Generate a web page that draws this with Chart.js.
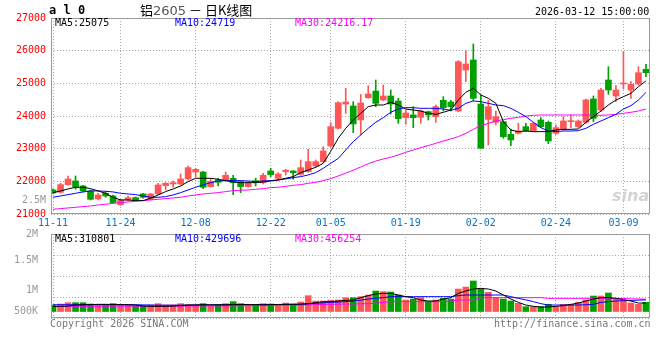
<!DOCTYPE html>
<html>
<head>
<meta charset="utf-8">
<script src="https://cdn.jsdelivr.net/npm/chart.js@4.4.1/dist/chart.umd.min.js"></script>
<style>
body { margin: 0; background: #fff; width: 660px; height: 360px; overflow: hidden; position: relative; font-family: "DejaVu Sans Mono", monospace; font-size: 10px; }
canvas { position: absolute; left: 0; }
.t { position: absolute; white-space: nowrap; line-height: 12px; }
</style>
</head>
<body>
<canvas id="priceChart" width="660" height="230" style="top:0"></canvas>
<canvas id="volChart" width="660" height="110" style="top:220px"></canvas>

<div class="t" style="left:49px;top:4px;font-weight:bold;font-size:12px">a l 0</div>
<div class="t" style="left:140px;top:3px;font-size:13px;line-height:14px;font-family:'Noto Sans CJK SC'">铝<span style="color:#555;font-family:'DejaVu Sans'">2605</span> － 日K线图</div>
<div class="t" style="left:535px;top:6px">2026-03-12 15:00:00</div>
<div class="t" style="left:55px;top:17px;color:#000">MA5:25075</div>
<div class="t" style="left:175px;top:17px;color:#0000ff">MA10:24719</div>
<div class="t" style="left:295px;top:17px;color:#ff00ff">MA30:24216.17</div>
<div class="t" style="left:22px;top:194px;color:#999">2.5M</div>
<div class="t" style="left:612px;top:186px;color:#d4d4d4;font:italic bold 16px 'DejaVu Sans'">sina</div>
<div class="t" style="left:55px;top:233px;color:#000">MA5:310801</div>
<div class="t" style="left:175px;top:233px;color:#0000ff">MA10:429696</div>
<div class="t" style="left:295px;top:233px;color:#ff00ff">MA30:456254</div>
<div class="t" style="left:50px;top:318px;color:#777">Copyright 2026 SINA.COM</div>
<div class="t" style="left:494px;top:318px;color:#777">http://finance.sina.com.cn</div>

<script>
// trading days
const days = ['11-11','11-12','11-13','11-14','11-17','11-18','11-19','11-20','11-21','11-24',
  '11-25','11-26','11-27','11-28','12-01','12-02','12-03','12-04','12-05','12-08',
  '12-09','12-10','12-11','12-12','12-15','12-16','12-17','12-18','12-19','12-22',
  '12-23','12-24','12-25','12-26','12-29','12-30','12-31','01-05','01-06','01-07',
  '01-08','01-09','01-12','01-13','01-14','01-15','01-16','01-19','01-20','01-21',
  '01-22','01-23','01-26','01-27','01-28','01-29','01-30','02-02','02-03','02-04',
  '02-05','02-06','02-09','02-10','02-11','02-12','02-13','02-24','02-25','02-26',
  '02-27','03-02','03-03','03-04','03-05','03-06','03-09','03-10','03-11','03-12'];
const tickDays = ['11-11','11-24','12-08','12-22','01-05','01-19','02-02','02-24','03-09'];

// OHLC
const open = [21736,21665,21899,22011,21858,21705,21461,21634,21552,21287,
  21430,21501,21614,21450,21614,21869,21920,21920,22073,22286,
  22286,21838,22042,22042,22093,21991,21838,22021,21960,22317,
  22093,22297,22317,22215,22297,22470,22603,23082,23623,24367,
  24306,23878,24561,24765,24490,24612,24459,23949,24031,23960,
  24133,23980,24480,24429,24153,25408,25714,24367,23898,23807,
  23827,23439,23470,23674,23541,23878,23807,23470,23592,23827,
  23674,23807,24521,24184,25102,24612,24980,24796,24980,25428];
const high = [21770,21940,22164,22164,21879,21736,21634,21685,21583,21450,
  21552,21520,21634,21634,21940,21960,22011,22225,22470,22399,
  22307,22093,22093,22286,22184,22021,21991,22093,22245,22399,
  22266,22368,22327,22654,22980,22654,23062,23796,24440,24847,
  24439,24663,24929,25102,24949,24796,24541,24184,24286,24184,
  24153,24337,24592,24480,25694,26000,26204,24643,24480,24153,
  23847,23603,23776,23776,23796,23949,23847,23725,23980,24031,
  23878,24520,24612,24847,25510,24929,25969,25051,25510,25581];
const low = [21620,21634,21879,21756,21675,21430,21430,21511,21328,21267,
  21409,21409,21481,21430,21593,21736,21818,21889,22042,22144,
  21777,21818,21858,22021,21593,21654,21818,21858,21920,22144,
  22042,22195,22062,22185,22276,22430,22583,23062,23600,24082,
  23490,23419,24541,24286,24470,24062,23776,23745,23643,23776,
  23878,23806,24153,24153,24133,25051,24470,23011,23113,23725,
  23317,23093,23450,23521,23521,23643,23154,23439,23562,23643,
  23643,23776,23827,24133,24663,24439,24827,24541,24949,25204];
const close = [21644,21899,22073,21838,21705,21450,21583,21552,21348,21430,
  21501,21430,21511,21614,21889,21940,21960,22073,22419,22368,
  21818,22001,21971,22184,21960,21838,21940,21960,22184,22205,
  22225,22338,22266,22419,22603,22603,22930,23674,24408,24429,
  23756,24398,24674,24388,24612,24367,23919,24092,23949,24153,
  24031,24286,24255,24286,25663,25592,24541,23011,24286,23980,
  23368,23266,23541,23551,23776,23674,23236,23643,23847,23858,
  23847,24490,23929,24796,24796,24796,25010,24969,25326,25326];

// price moving averages
const ma5 = [21654,21706,21767,21818,21818,21777,21706,21634,21511,21430,
  21430,21409,21409,21481,21583,21685,21767,21858,21991,22093,
  22093,22093,22062,22021,21981,21960,21960,21960,21981,22011,
  22042,22093,22144,22266,22348,22430,22552,22920,23317,23623,
  23878,24082,24286,24337,24337,24419,24337,24214,24184,24153,
  24082,24051,24113,24184,24490,24725,24847,24643,24541,24388,
  23827,23572,23521,23541,23521,23521,23521,23572,23592,23592,
  23603,23807,23980,24153,24337,24490,24592,24694,24898,25075];
const ma10 = [21511,21552,21593,21634,21675,21706,21706,21695,21675,21634,
  21614,21593,21552,21511,21511,21532,21583,21654,21736,21818,
  21889,21960,22011,22021,22021,22021,22011,21991,22011,22021,
  22042,22073,22113,22144,22195,22266,22399,22552,22700,22960,
  23215,23419,23623,23807,23949,24113,24214,24255,24255,24235,
  24235,24235,24214,24174,24235,24388,24459,24439,24388,24337,
  24317,24235,24113,23980,23807,23643,23541,23521,23541,23541,
  23551,23623,23745,23847,23949,24051,24214,24317,24490,24719];
const ma30 = [21144,21165,21185,21205,21226,21246,21277,21297,21328,21348,
  21369,21389,21409,21430,21450,21471,21491,21511,21552,21583,
  21614,21634,21654,21685,21716,21726,21736,21756,21777,21807,
  21818,21848,21879,21899,21940,21971,22021,22083,22164,22250,
  22340,22440,22540,22620,22685,22736,22807,22889,22960,23031,
  23093,23164,23236,23297,23368,23470,23592,23705,23776,23847,
  23888,23929,23960,24000,24021,24031,24031,24031,24031,24031,
  24031,24031,24021,24021,24031,24051,24082,24113,24153,24216];

// volume and its moving averages
const volume = [240000,277000,327000,327000,327000,277000,240000,240000,290000,240000,
  240000,216000,216000,240000,290000,240000,240000,290000,253000,240000,
  290000,216000,240000,290000,364000,290000,240000,240000,290000,277000,
  240000,314000,277000,351000,586000,388000,388000,420000,425000,512000,
  512000,549000,610000,758000,734000,721000,610000,425000,462000,512000,
  364000,425000,487000,462000,832000,906000,1128000,832000,709000,512000,
  462000,388000,302000,179000,179000,179000,265000,179000,265000,265000,
  339000,425000,573000,573000,684000,462000,425000,314000,265000,339000];
const volMa5 = [180000,190000,200000,240000,250000,255000,265000,265000,260000,255000,
  250000,240000,200000,190000,190000,190000,200000,220000,240000,245000,
  250000,250000,250000,250000,255000,260000,260000,255000,250000,255000,
  260000,265000,265000,270000,290000,330000,360000,364000,388000,413000,
  425000,512000,586000,648000,672000,672000,610000,549000,512000,425000,
  388000,388000,462000,512000,672000,758000,832000,857000,832000,758000,
  610000,462000,339000,240000,191000,167000,167000,191000,216000,265000,
  314000,388000,462000,512000,512000,487000,438000,388000,314000,310801];
const volMa10 = [250000,250000,250000,250000,250000,250000,255000,255000,255000,255000,
  255000,250000,245000,240000,235000,235000,235000,235000,235000,240000,
  240000,245000,245000,245000,250000,250000,255000,255000,255000,255000,
  260000,260000,265000,270000,285000,300000,320000,339000,350000,365000,
  388000,420000,462000,490000,512000,549000,549000,549000,549000,549000,
  549000,549000,549000,549000,586000,610000,610000,610000,610000,610000,
  610000,549000,487000,430000,364000,290000,240000,240000,240000,240000,
  240000,250000,265000,339000,364000,388000,400000,410000,420000,429696];
const volMa30 = [191000,191000,191000,191000,191000,192000,193000,194000,195000,196000,
  197000,198000,199000,200000,201000,202000,203000,204000,205000,206000,
  207000,208000,209000,210000,212000,214000,216000,218000,220000,223000,
  226000,230000,235000,240000,248000,255000,260000,265000,270000,275000,
  280000,285000,290000,310000,340000,364000,364000,364000,364000,364000,
  364000,364000,364000,390000,425000,425000,425000,512000,512000,512000,
  512000,512000,512000,512000,512000,512000,487000,487000,487000,487000,
  487000,487000,487000,487000,487000,487000,480000,470000,462000,456254];

// axis label texts of the volume panel
const volTickText = ['2M', '1.5M', '1M', '500K'];
const volTickVals = [2867000, 1905000, 795000, 18500];

const RED = '#ff5757', GREEN = '#00a000';
const candleColors = open.map((o, i) => close[i] >= o ? RED : GREEN);
const tickIdx = tickDays.map(d => days.indexOf(d));
const xy = arr => arr.map((v, i) => ({x: i, y: v}));

const gridColor = '#a8a8a8';
const monoFont = {family: 'DejaVu Sans Mono', size: 10};

const frame = {
  id: 'frame',
  afterDraw(c) {
    const {ctx, chartArea: a} = c;
    ctx.save();
    ctx.strokeStyle = '#9a9a9a';
    ctx.lineWidth = 1;
    ctx.strokeRect(Math.round(a.left) + 0.5, Math.round(a.top) + 0.5, Math.round(a.width) - 1, Math.round(a.height) - 1);
    ctx.restore();
  }
};

function xScale(showLabels) {
  return {
    type: 'linear', min: -0.27, max: 79.54, offset: false,
    afterBuildTicks: s => { s.ticks = tickIdx.map(v => ({value: v})); },
    afterFit: s => { s.height = showLabels ? 16 : 12; },
    grid: {color: gridColor, drawTicks: false, offset: false},
    border: {display: false, dash: [1, 2]},
    ticks: {display: showLabels, autoSkip: false, maxRotation: 0, padding: 3,
      color: '#0a74c4', font: monoFont, callback: v => days[v]}
  };
}

function maLine(data, color) {
  return {type: 'line', data: xy(data), borderColor: color, borderWidth: 1,
    pointRadius: 0, tension: 0, order: 0};
}

// Price Chart
var ctxPrice = document.getElementById('priceChart').getContext('2d');
var priceChart = new Chart(ctxPrice, {
  data: {
    datasets: [
      maLine(ma5, '#000000'),
      maLine(ma10, '#0000ff'),
      maLine(ma30, '#ff00ff'),
      {
        type: 'bar',
        data: open.map((o, i) => ({x: i, y: [o, close[i]]})),
        backgroundColor: candleColors,
        barThickness: 6, grouped: false, minBarLength: 1, order: 1
      },
      {
        type: 'bar',
        data: low.map((l, i) => ({x: i, y: [l, high[i]]})),
        backgroundColor: candleColors,
        barThickness: 1, grouped: false, order: 2
      }
    ]
  },
  options: {
    responsive: false,
    animation: false,
    layout: {padding: {top: 18, right: 10, left: 0, bottom: 0}},
    plugins: {legend: {display: false}, tooltip: {enabled: false}},
    scales: {
      x: xScale(true),
      y: {
        min: 21000, max: 27000,
        afterFit: s => { s.width = 51; },
        grid: {color: gridColor, drawTicks: false},
        border: {display: false, dash: [1, 2]},
        ticks: {stepSize: 1000, padding: 5, color: '#ff0000', font: monoFont,
          callback: v => String(v)}
      }
    }
  },
  plugins: [frame]
});

// Volume Chart
var ctxVol = document.getElementById('volChart').getContext('2d');
var volChart = new Chart(ctxVol, {
  data: {
    datasets: [
      maLine(volMa5, '#000000'),
      maLine(volMa10, '#0000ff'),
      maLine(volMa30, '#ff00ff'),
      {
        type: 'bar',
        data: xy(volume),
        backgroundColor: candleColors,
        barThickness: 6, grouped: false, order: 1
      }
    ]
  },
  options: {
    responsive: false,
    animation: false,
    layout: {padding: {top: 14, right: 10, left: 0, bottom: 0}},
    plugins: {legend: {display: false}, tooltip: {enabled: false}},
    scales: {
      x: xScale(false),
      y: {
        min: -240000, max: 2867000,
        afterFit: s => { s.width = 0; },
        afterBuildTicks: s => {
          const step = (s.max - s.min) / 4;
          s.ticks = [0, 1, 2, 3, 4].map(k => ({value: s.min + k * step}));
        },
        grid: {color: gridColor, drawTicks: false},
        border: {display: false, dash: [1, 2]},
        ticks: {display: false}
      },
      yl: {
        position: 'left',
        min: -240000, max: 2867000,
        afterFit: s => { s.width = 51; },
        afterBuildTicks: s => { s.ticks = volTickVals.map(v => ({value: v})); },
        grid: {display: false},
        border: {display: false},
        ticks: {padding: 5, color: '#999', font: monoFont,
          callback: (v, i) => volTickText[i]}
      }
    }
  },
  plugins: [frame]
});
</script>
</body>
</html>
